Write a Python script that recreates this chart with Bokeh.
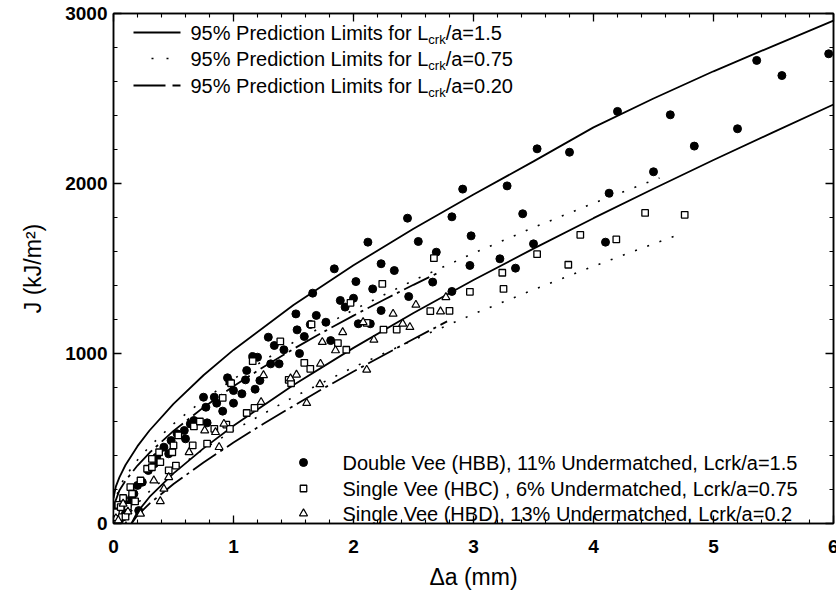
from bokeh.plotting import figure
from bokeh.models import LinearAxis, FixedTicker, Label, Range1d, CustomLabelingPolicy
from bokeh.embed import file_html
from bokeh.resources import INLINE

# ---------------- data ----------------
# Double Vee (HBB), 11% Undermatched, Lcrk/a=1.5  (filled circles)
hbb_da = [0.00, 0.03, 0.05, 0.08, 0.10, 0.12, 0.15, 0.17, 0.20, 0.21, 0.24, 0.29, 0.34, 0.36,
          0.42, 0.46, 0.48, 0.53, 0.59, 0.60, 0.64, 0.67, 0.75, 0.78, 0.77, 0.84, 0.86, 0.91,
          0.95, 0.97, 1.00, 1.00, 1.07, 1.10, 1.11, 1.16, 1.18, 1.20, 1.22, 1.29, 1.31, 1.34,
          1.38, 1.42, 1.52, 1.53, 1.55, 1.59, 1.64, 1.66, 1.69, 1.77, 1.81, 1.84, 1.89, 1.93,
          2.00, 2.02, 2.04, 2.12, 2.14, 2.16, 2.23, 2.23, 2.34, 2.45, 2.46, 2.54, 2.66, 2.69,
          2.82, 2.82, 2.91, 2.97, 2.98, 3.22, 3.28, 3.35, 3.41, 3.50, 3.53, 3.80, 4.10, 4.13,
          4.20, 4.50, 4.64, 4.84, 5.20, 5.36, 5.57, 5.96]
hbb_j = [40, 90, 20, 130, 60, 110, 150, 175, 224, 76, 243, 312, 351, 390,
         449, 410, 488, 528, 547, 498, 586, 606, 743, 592, 684, 743, 708, 661,
         857, 831, 782, 708, 763, 845, 900, 982, 790, 978, 841, 1096, 939, 1047,
         939, 1022, 1233, 1139, 1000, 1100, 1171, 1355, 1224, 1184, 1076, 1498, 1312, 1273,
         1325, 1423, 1175, 1655, 1175, 1380, 1528, 1253, 1488, 1796, 1335, 1659, 1420, 1596,
         1804, 1365, 1967, 1518, 1692, 1557, 1986, 1502, 1822, 1645, 2204, 2184, 1655, 1943,
         2424, 2069, 2404, 2220, 2322, 2724, 2635, 2763]

# Single Vee (HBC), 6% Undermatched, Lcrk/a=0.75  (open squares)
hbc_da = [0.00, 0.00, 0.02, 0.02, 0.04, 0.06, 0.07, 0.08, 0.10, 0.12, 0.14, 0.155, 0.18,
          0.225, 0.28, 0.32, 0.32, 0.39, 0.38, 0.46, 0.49, 0.50, 0.52, 0.54, 0.66, 0.67,
          0.72, 0.78, 0.84, 0.91, 0.94, 0.97, 0.98, 1.11, 1.16, 1.175, 1.39, 1.46, 1.48,
          1.59, 1.64, 1.65, 1.87, 1.94, 1.975, 2.11, 2.24, 2.25, 2.36, 2.64, 2.67, 2.80,
          2.97, 3.24, 3.25, 3.53, 3.79, 3.89, 4.19, 4.43, 4.76]
hbc_j = [18, 60, 66, 8, 110, 96, 37, 150, 40, 100, 214, 175, 130,
         253, 322, 380, 331, 361, 419, 312, 419, 459, 341, 518, 459, 571,
         600, 470, 557, 739, 582, 557, 825, 650, 955, 680, 1071, 845, 825,
         945, 910, 1171, 1061, 1022, 1298, 1180, 1410, 1141, 1141, 1249, 1561, 1251,
         1363, 1475, 1380, 1584, 1522, 1698, 1671, 1827, 1816]

# Single Vee (HBD), 13% Undermatched, Lcrk/a=0.2  (open triangles)
hbd_da = [0.02, 0.04, 0.08, 0.12, 0.225, 0.336, 0.39, 0.42, 0.46, 0.63, 0.76, 0.85, 0.88,
          0.92, 1.23, 1.25, 1.475, 1.525, 1.61, 1.72, 1.725, 1.74, 1.85, 1.91, 2.08, 2.11,
          2.17, 2.33, 2.41, 2.47, 2.52, 2.725, 2.77]
hbd_j = [30, 18, 116, 70, 57, 253, 131, 204, 272, 419, 547, 537, 449,
         586, 714, 872, 853, 875, 708, 819, 939, 1067, 1018, 1125, 1184, 904,
         1080, 1233, 1175, 1155, 1286, 1247, 1331]

# 95% prediction limits
up15_da = [0, 0.02, 0.05, 0.1, 0.2, 0.3, 0.5, 0.75, 1, 1.5, 2, 2.5, 3, 3.5, 4, 4.5, 5, 5.5, 6]
up15_j = [150, 218, 273, 344, 455, 547, 704, 872, 1021, 1285, 1519, 1734, 1935, 2130, 2330,
          2500, 2660, 2810, 2958]
lo15_da = [0.15, 0.2, 0.3, 0.5, 0.75, 1, 1.5, 2, 2.5, 3, 3.5, 4, 4.5, 5, 5.5, 6]
lo15_j = [0, 68, 156, 295, 442, 575, 815, 1033, 1238, 1432, 1617, 1796, 1969, 2138, 2302, 2465]
up075_da = [0, 0.05, 0.1, 0.2, 0.3, 0.5, 0.75, 1, 1.5, 2, 2.5, 3, 3.5, 4, 4.55]
up075_j = [100, 215, 278, 374, 453, 586, 727, 850, 1066, 1257, 1430, 1590, 1741, 1884, 2033]
lo075_da = [0.1, 0.15, 0.25, 0.5, 0.75, 1, 1.5, 2, 2.5, 3, 3.5, 4, 4.5, 4.7]
lo075_j = [0, 74, 158, 312, 437, 548, 744, 919, 1080, 1232, 1375, 1513, 1645, 1696]
up020_da = [0, 0.05, 0.1, 0.2, 0.3, 0.5, 0.75, 1, 1.25, 1.5, 1.75, 2, 2.25, 2.5, 2.7]
up020_j = [100, 196, 252, 341, 416, 545, 683, 807, 921, 1027, 1127, 1223, 1315, 1404, 1473]
lo020_da = [0.15, 0.2, 0.3, 0.5, 0.75, 1, 1.25, 1.5, 1.75, 2, 2.25, 2.5, 2.78]
lo020_j = [0, 48, 117, 232, 359, 476, 587, 692, 795, 894, 990, 1085, 1189]

x_ticks = [0, 1, 2, 3, 4, 5, 6]
y_ticks = [0, 1000, 2000, 3000]
x_minor = [round(i * 0.2, 2) for i in range(31)]
y_minor = [i * 200 for i in range(16)]

line_labels = ["95% Prediction Limits for L", "95% Prediction Limits for L",
               "95% Prediction Limits for L"]
line_suffix = ["/a=1.5", "/a=0.75", "/a=0.20"]
marker_labels = ["Double Vee (HBB), 11% Undermatched, Lcrk/a=1.5",
                 "Single Vee (HBC) , 6% Undermatched, Lcrk/a=0.75",
                 "Single Vee (HBD), 13% Undermatched, Lcrk/a=0.2"]

# ---------------- layout ----------------
FONT = "Liberation Sans"
FL, FT, FW, FH = 113, 13, 720, 510   # frame position in the page (px)
X0, X1, Y0, Y1 = 0, 6, 0, 3000


def dx(px):
    return X0 + (px - FL) / FW * (X1 - X0)


def dy(py):
    return Y0 + (FT + FH - py) / FH * (Y1 - Y0)


p = figure(frame_width=FW, frame_height=FH,
           x_range=Range1d(X0, X1), y_range=Range1d(Y0, Y1),
           output_backend="svg", toolbar_location=None,
           min_border_left=FL, min_border_right=3, min_border_top=FT, min_border_bottom=72,
           background_fill_color="white", border_fill_color="white")
p.xgrid.visible = False
p.ygrid.visible = False
p.outline_line_color = "black"
p.outline_line_width = 1.5

xt = FixedTicker(ticks=x_ticks, minor_ticks=x_minor)
yt = FixedTicker(ticks=y_ticks, minor_ticks=y_minor)


def style_axis(ax, labels=True):
    ax.axis_line_color = "black"
    ax.axis_line_width = 1.5
    ax.major_tick_in = 8
    ax.major_tick_out = 0
    ax.minor_tick_in = 4
    ax.minor_tick_out = 0
    ax.major_tick_line_width = 1.3
    ax.minor_tick_line_width = 1.1
    if labels:
        ax.major_label_text_font = FONT
        ax.major_label_text_font_style = "bold"
        ax.major_label_text_font_size = "19px"
        ax.major_label_text_color = "black"
        ax.axis_label_text_font = FONT
        ax.axis_label_text_font_style = "normal"
        ax.axis_label_text_font_size = "23px"
        ax.axis_label_text_color = "black"
    else:
        ax.major_label_policy = CustomLabelingPolicy(code="return []")
        ax.major_label_text_font_size = "1px"
        ax.major_label_standoff = 0


p.xaxis.ticker = xt
p.yaxis.ticker = yt
style_axis(p.xaxis[0])
style_axis(p.yaxis[0])
p.xaxis.axis_label = "Δa (mm)"
p.yaxis.axis_label = "J (kJ/m²)"
p.xaxis.major_label_standoff = 16
p.xaxis.axis_label_standoff = 8
p.yaxis.major_label_standoff = 6
p.yaxis.axis_label_standoff = 16

top = LinearAxis(ticker=xt)
style_axis(top, labels=False)
p.add_layout(top, "above")
right = LinearAxis(ticker=yt)
style_axis(right, labels=False)
p.add_layout(right, "right")

# ---------------- curves ----------------
LW = 1.8
p.line(up15_da, up15_j, line_color="black", line_width=LW)
p.line(lo15_da, lo15_j, line_color="black", line_width=LW)
p.line(up075_da, up075_j, line_color="black", line_width=1.6, line_dash="2 11")
p.line(lo075_da, lo075_j, line_color="black", line_width=1.6, line_dash="2 11")
p.line(up020_da, up020_j, line_color="black", line_width=LW, line_dash="28 5 3 5")
p.line(lo020_da, lo020_j, line_color="black", line_width=LW, line_dash="28 5 3 5")

# ---------------- points ----------------
p.scatter(hbb_da, hbb_j, marker="circle", size=8, fill_color="black", line_color="black")
p.scatter(hbc_da, hbc_j, marker="square", size=6.5, fill_color="white", line_color="black",
          line_width=1.3)
p.scatter(hbd_da, hbd_j, marker="triangle", size=8, fill_color="white", line_color="black",
          line_width=1.2)

# ---------------- legend: prediction limits (top left) ----------------
LEG_FS = 20
row_y = [32, 58, 85]
p.line([dx(133), dx(180)], [dy(row_y[0])] * 2, line_color="black", line_width=LW)
p.line([dx(151), dx(169)], [dy(row_y[1])] * 2, line_color="black", line_width=1.6,
       line_dash="2 13")
p.line([dx(133), dx(180)], [dy(row_y[2])] * 2, line_color="black", line_width=LW,
       line_dash="32 7 8 100")
w_main = 11.893 * LEG_FS
w_sub = 1.333 * 13
for i in range(3):
    p.add_layout(Label(x=dx(190), y=dy(row_y[i]), text=line_labels[i], text_font=FONT,
                       text_font_size=f"{LEG_FS}px", text_baseline="middle", text_color="black"))
    p.add_layout(Label(x=dx(190 + w_main), y=dy(row_y[i] + 7), text="crk", text_font=FONT,
                       text_font_size="13px", text_baseline="middle", text_color="black"))
    p.add_layout(Label(x=dx(190 + w_main + w_sub), y=dy(row_y[i]), text=line_suffix[i],
                       text_font=FONT, text_font_size=f"{LEG_FS}px", text_baseline="middle",
                       text_color="black"))

# ---------------- legend: specimens (bottom right) ----------------
mrow_y = [462, 488, 513]
p.scatter([dx(303)], [dy(mrow_y[0])], marker="circle", size=8, fill_color="black",
          line_color="black")
p.scatter([dx(303)], [dy(mrow_y[1])], marker="square", size=6.5, fill_color="white",
          line_color="black", line_width=1.3)
p.scatter([dx(303)], [dy(mrow_y[2])], marker="triangle", size=8, fill_color="white",
          line_color="black", line_width=1.2)
for i in range(3):
    p.add_layout(Label(x=dx(342), y=dy(mrow_y[i]), text=marker_labels[i], text_font=FONT,
                       text_font_size=f"{LEG_FS}px", text_baseline="middle", text_color="black"))

open("out.html", "w").write(file_html(p, INLINE))
